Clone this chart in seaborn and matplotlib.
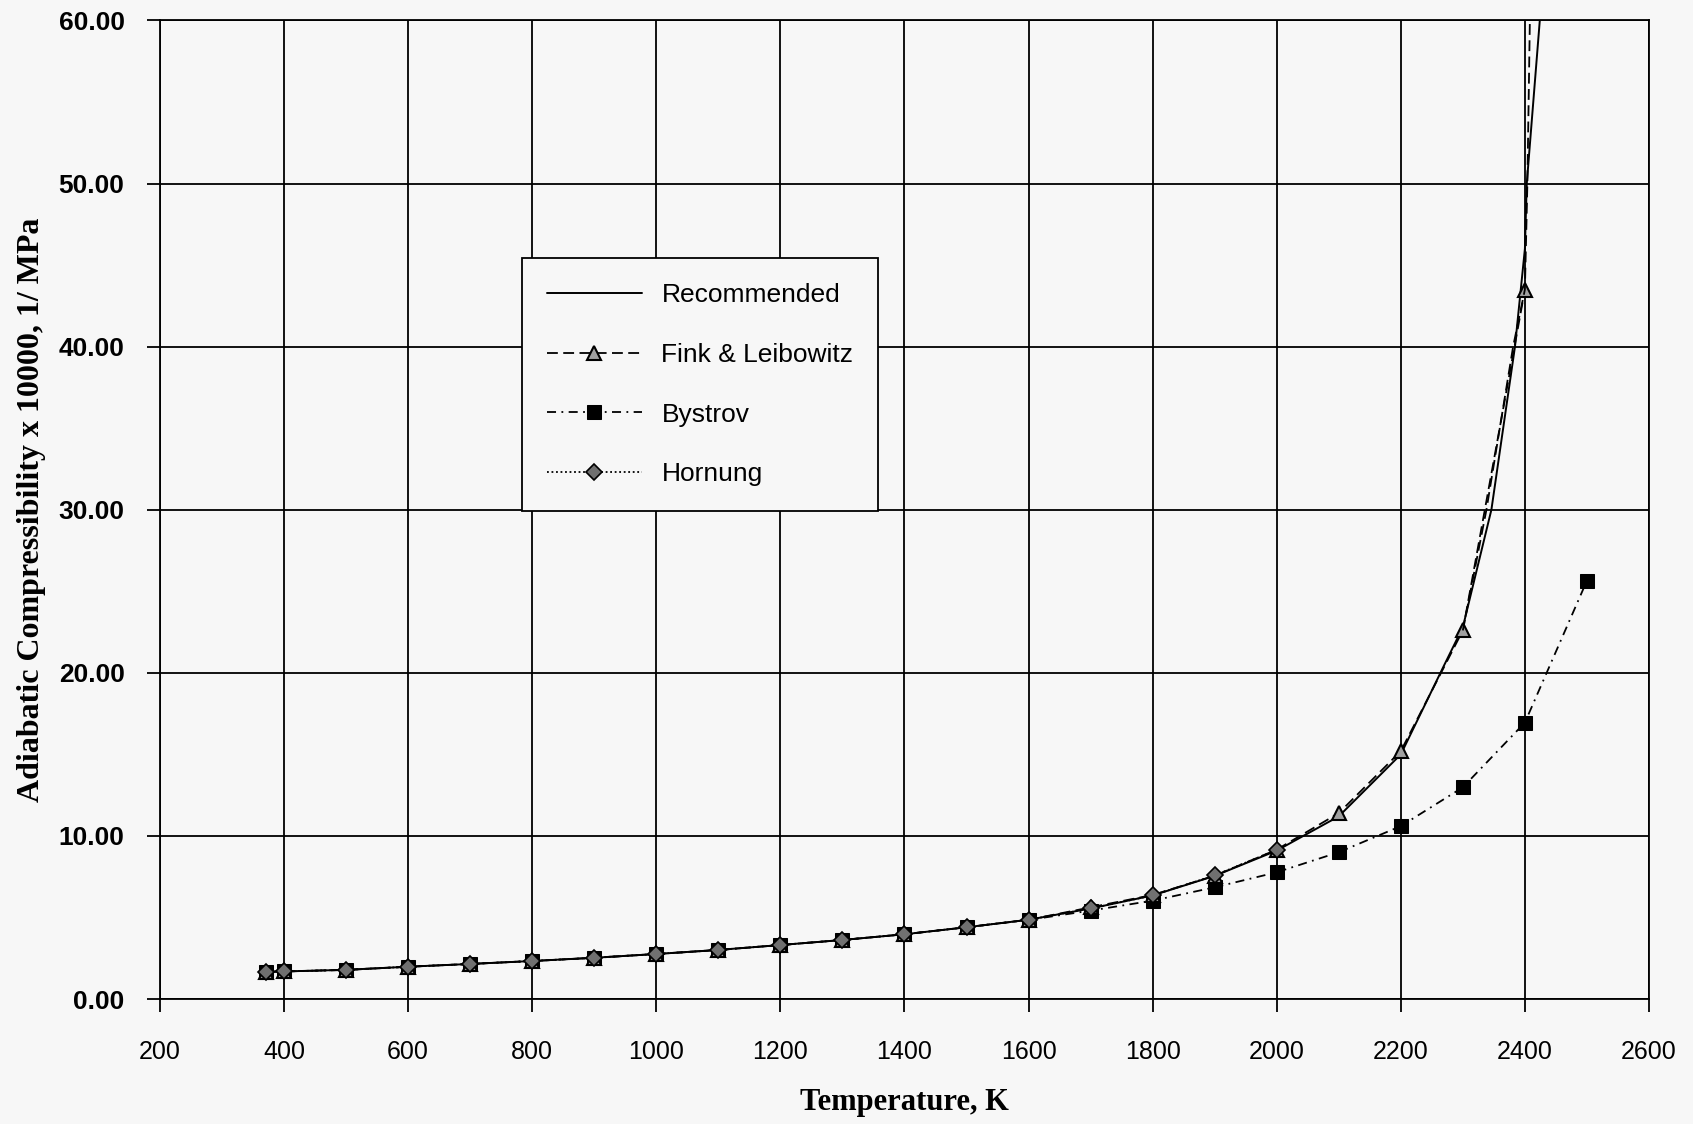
import seaborn as sns
import matplotlib.pyplot as plt
import pandas as pd

# data
temp = [371, 400, 500, 600, 700, 800, 900, 1000, 1100, 1200, 1300, 1400,
        1500, 1600, 1700, 1800, 1900, 2000, 2100, 2200, 2300, 2400, 2500]

bystrov = [1.67, 1.69, 1.78, 1.98, 2.15, 2.33, 2.52, 2.76, 3.00, 3.31, 3.62, 3.97,
           4.40, 4.85, 5.42, 6.03, 6.85, 7.77, 9.00, 10.6, 12.98, 16.95, 25.65]

fink_t = temp[:22]
fink = [1.67, 1.69, 1.79, 1.98, 2.15, 2.33, 2.53, 2.76, 3.01, 3.31, 3.62, 3.97,
        4.40, 4.86, 5.62, 6.38, 7.56, 9.16, 11.4, 15.2, 22.6, 43.5]
# dashed curve beyond the last tabulated point (goes off the top)
fink_tail_t = [2300, 2338, 2381, 2400, 2404, 2408, 2410]
fink_tail = [22.6, 30.0, 40.0, 43.5, 50.0, 60.0, 65.0]

hornung_t = temp[:18]
hornung = [1.67, 1.69, 1.79, 1.98, 2.15, 2.33, 2.53, 2.76, 3.01, 3.31, 3.62, 3.97,
           4.40, 4.86, 5.55, 6.35, 7.58, 9.15]

rec_t = [371, 400, 500, 600, 700, 800, 900, 1000, 1100, 1200, 1300, 1400, 1500,
         1600, 1700, 1800, 1900, 2000, 2100, 2200, 2269, 2300, 2346, 2384, 2400,
         2403, 2424, 2430]
rec = [1.67, 1.69, 1.79, 1.98, 2.15, 2.33, 2.53, 2.76, 3.01, 3.31, 3.62, 3.97, 4.40,
       4.86, 5.55, 6.35, 7.55, 9.10, 11.2, 15.0, 20.4, 22.8, 30.0, 40.0, 46.0,
       50.0, 60.0, 63.0]

x_ticks = list(range(200, 2601, 200))
y_ticks = [0, 10, 20, 30, 40, 50, 60]

sns.set_style('white')
plt.rcParams['font.family'] = ['Liberation Sans', 'DejaVu Sans']
plt.rcParams['text.color'] = 'black'
plt.rcParams['axes.labelcolor'] = 'black'
plt.rcParams['xtick.color'] = 'black'
plt.rcParams['ytick.color'] = 'black'

bg = '#f7f7f7'
fig = plt.figure(figsize=(16.93, 11.24), dpi=100, facecolor=bg)
ax = fig.add_axes([0.0945, 0.1112, 0.8795, 0.8706])
ax.set_facecolor(bg)

df_rec = pd.DataFrame({'T': rec_t, 'v': rec})
df_by = pd.DataFrame({'T': temp, 'v': bystrov})
df_fi = pd.DataFrame({'T': fink_t, 'v': fink})
df_ft = pd.DataFrame({'T': fink_tail_t, 'v': fink_tail})
df_ho = pd.DataFrame({'T': hornung_t, 'v': hornung})

sns.lineplot(data=df_rec, x='T', y='v', ax=ax, color='black', lw=1.4,
             sort=False, estimator=None, label='Recommended', zorder=5)
sns.lineplot(data=df_fi, x='T', y='v', ax=ax, color='black', lw=1.3,
             linestyle=(0, (6, 3)), marker='^', markersize=10,
             markerfacecolor='#a0a0a0', markeredgecolor='black', markeredgewidth=1.5,
             sort=False, estimator=None, label='Fink & Leibowitz', zorder=6)
sns.lineplot(data=df_ft, x='T', y='v', ax=ax, color='black', lw=1.3,
             linestyle=(0, (6, 3)), sort=False, estimator=None, legend=False, zorder=6)
sns.lineplot(data=df_by, x='T', y='v', ax=ax, color='black', lw=1.3,
             linestyle=(0, (5, 3, 1, 3)), marker='s', markersize=10,
             markerfacecolor='black', markeredgecolor='black',
             sort=False, estimator=None, label='Bystrov', zorder=4)
sns.lineplot(data=df_ho, x='T', y='v', ax=ax, color='black', lw=1.3,
             linestyle=(0, (1, 1.5)), marker='D', markersize=8,
             markerfacecolor='#707070', markeredgecolor='black', markeredgewidth=1.2,
             sort=False, estimator=None, label='Hornung', zorder=7)

ax.set_xlim(200, 2600)
ax.set_ylim(0, 60)
ax.set_xticks(x_ticks)
ax.set_yticks(y_ticks)
ax.set_yticklabels([f'{v:.2f}' for v in y_ticks], fontsize=19, fontweight='bold')
ax.set_xticklabels([str(v) for v in x_ticks], fontsize=18)
ax.grid(True, color='black', lw=1.3)
ax.set_axisbelow(True)
ax.tick_params(axis='both', direction='out', length=9.5, width=1.3, color='black',
               left=True, bottom=True)
ax.tick_params(axis='y', pad=16)
ax.tick_params(axis='x', pad=20)
for s in ax.spines.values():
    s.set_color('black')
    s.set_linewidth(1.3)

ax.set_xlabel('Temperature, K', family='Liberation Serif', fontweight='bold',
              fontsize=22, labelpad=17)
ax.set_ylabel('Adiabatic Compressibility x 10000, 1/ MPa', family='Liberation Serif',
              fontweight='bold', fontsize=23, labelpad=9)

leg = ax.legend(loc='upper left', bbox_to_anchor=(0.2428, 0.757), fontsize=19,
                frameon=True, fancybox=False, edgecolor='black', facecolor=bg,
                framealpha=1, handlelength=3.6, handletextpad=0.75,
                labelspacing=1.35, borderpad=0.95, borderaxespad=0)
leg.get_frame().set_linewidth(1.3)
leg.set_zorder(10)

fig.savefig('out.png', dpi=100, facecolor=bg)
